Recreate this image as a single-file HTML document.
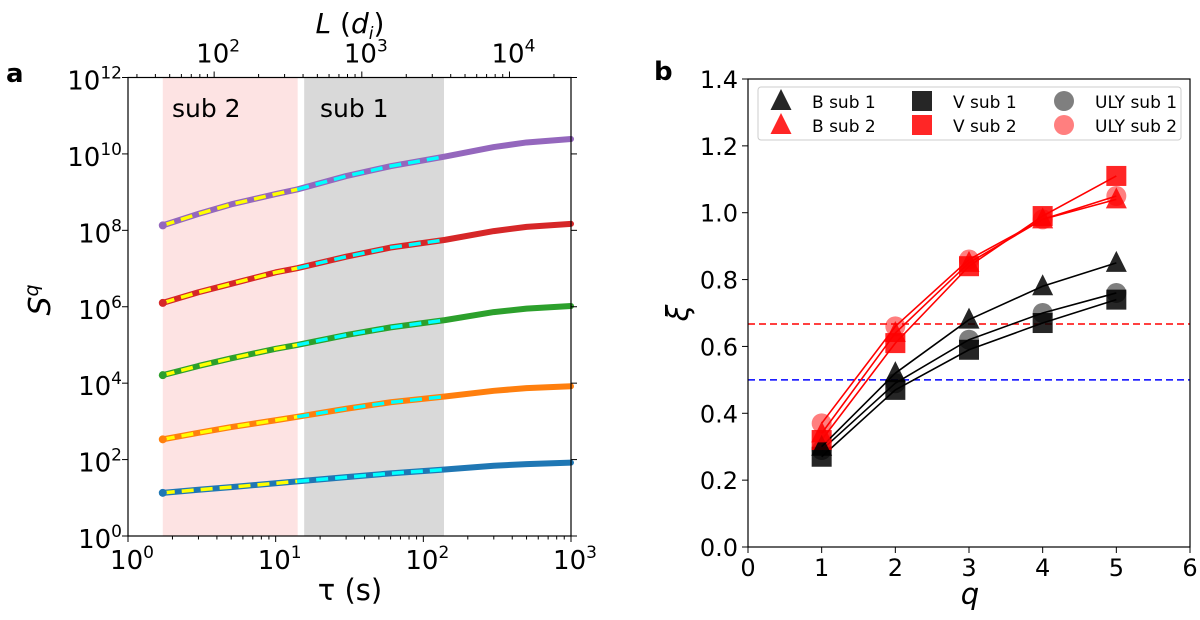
<!DOCTYPE html>
<html><head><meta charset="utf-8"><style>
body{margin:0;background:#fff;}
svg{display:block;font-family:"DejaVu Sans","Liberation Sans",sans-serif;}
</style></head><body>
<svg id="c" width="1200" height="620" viewBox="0 0 1200 620"></svg>
<script>
// Panel a data
const tauPts = [1.72, 3, 5, 10, 14, 30, 60, 140, 300, 500, 1000];
const sBlue   = [1.13, 1.21, 1.28, 1.38, 1.43, 1.54, 1.64, 1.74, 1.84, 1.88, 1.92];
const sOrange = [2.53, 2.70, 2.85, 3.03, 3.12, 3.33, 3.50, 3.65, 3.80, 3.87, 3.92];
const sGreen  = [4.21, 4.45, 4.65, 4.90, 5.00, 5.26, 5.46, 5.65, 5.86, 5.95, 6.02];
const sRed    = [6.10, 6.38, 6.60, 6.90, 7.01, 7.31, 7.55, 7.75, 7.98, 8.09, 8.17];
const sPurple = [8.13, 8.43, 8.68, 8.95, 9.07, 9.42, 9.68, 9.93, 10.18, 10.30, 10.39];
const seriesColorsA = ['#1f77b4','#ff7f0e','#2ca02c','#d62728','#9467bd'];
const sub2Range = [1.72, 14.1];
const sub1Range = [15.6, 138];
const xTicksA = [0,1,2,3];
const yTicksA = [0,2,4,6,8,10,12];
const topTicks = [2,3,4];
const Lfactor = 26.1;
// Panel b data
const qVals = [1,2,3,4,5];
const bSub1 = [0.30,0.52,0.68,0.78,0.85];
const bSub2 = [0.34,0.64,0.85,0.98,1.04];
const vSub1 = [0.27,0.47,0.59,0.67,0.74];
const vSub2 = [0.32,0.61,0.84,0.99,1.11];
const ulySub1 = [0.29,0.49,0.62,0.70,0.76];
const ulySub2 = [0.37,0.66,0.86,0.98,1.05];
const hRed = 0.667, hBlue = 0.5;
const xTicksB = [0,1,2,3,4,5,6];
const yTicksB = [0,0.2,0.4,0.6,0.8,1.0,1.2,1.4];

const NS='http://www.w3.org/2000/svg';
const svg=document.getElementById('c');
function mk(tag,attrs,parent){const e=document.createElementNS(NS,tag);for(const k in attrs)e.setAttribute(k,attrs[k]);(parent||svg).appendChild(e);return e;}
function txt(s,attrs,parent){const e=mk('text',attrs,parent);e.innerHTML=s;return e;}

// ---- Panel A ----
const AL=128,AR=571,AT=77.5,AB=536;
const ax=t=>AL+(Math.log10(t))*(AR-AL)/3;
const ay=l=>AB-l*(AB-AT)/12;
const gA=mk('g',{});


let r=mk('rect',{x:ax(sub2Range[0]),y:AT,width:ax(sub2Range[1])-ax(sub2Range[0]),height:AB-AT,fill:'#fde3e3'},gA);

r=mk('rect',{x:ax(sub1Range[0]),y:AT,width:ax(sub1Range[1])-ax(sub1Range[0]),height:AB-AT,fill:'#d9d9d9'},gA);

let t=txt('sub 2',{x:172,y:117,'font-size':25},gA);
t=txt('sub 1',{x:320,y:117,'font-size':25},gA);
const seriesA=[sBlue,sOrange,sGreen,sRed,sPurple];
seriesA.forEach((s,i)=>{
  const g=mk('g',{},gA);
  
  
  const pts=tauPts.map((tt,j)=>ax(tt)+','+ay(s[j])).join(' ');
  mk('polyline',{points:pts,fill:'none',stroke:seriesColorsA[i],'stroke-width':6,'stroke-linecap':'round','stroke-linejoin':'round'},g);
  const fit2=[],fit1=[];
  tauPts.forEach((tt,j)=>{if(tt<=14.1)fit2.push(ax(tt)+','+ay(s[j]));if(tt>=14&&tt<=140)fit1.push(ax(tt)+','+ay(s[j]));});
  mk('polyline',{points:fit2.join(' '),fill:'none',stroke:'#ffff00','stroke-width':3.5,'stroke-dasharray':'12,7'},g);
  mk('polyline',{points:fit1.join(' '),fill:'none',stroke:'#00ffff','stroke-width':3.5,'stroke-dasharray':'12,7'},g);
  mk('circle',{cx:ax(tauPts[0]),cy:ay(s[0]),r:4,fill:seriesColorsA[i]},g);
});
mk('rect',{x:AL,y:AT,width:AR-AL,height:AB-AT,fill:'none',stroke:'#000','stroke-width':1.2},gA);
xTicksA.forEach(d=>{
  for(let m=1;m<10&&d+Math.log10(m)<=3;m++){const x=ax(m*Math.pow(10,d));const len=m==1?6:3.5;mk('line',{x1:x,y1:AB,x2:x,y2:AB+len,stroke:'#000'},gA);}
  const tl=txt('10<tspan dy="-11" font-size="17">'+d+'</tspan>',{x:ax(Math.pow(10,d))+4,y:AB+33,'font-size':26,'text-anchor':'middle'},gA);
  
});
yTicksA.forEach(d=>{
  const y=ay(d);
  mk('line',{x1:AL-6,y1:y,x2:AL,y2:y,stroke:'#000'},gA);
  mk('line',{x1:AR,y1:y,x2:AR+6,y2:y,stroke:'#000'},gA);
  const tl=txt('10<tspan dy="-11" font-size="17">'+d+'</tspan>',{x:AL-6,y:y+12,'font-size':26,'text-anchor':'end'},gA);
  
});
for(let d=1;d<=5;d++)for(let m=1;m<10;m++){const tau=m*Math.pow(10,d)/Lfactor;if(tau<1||tau>1000)continue;const x=ax(tau);mk('line',{x1:x,y1:AT,x2:x,y2:AT-(m==1?6:3.5),stroke:'#000'},gA);}
topTicks.forEach(d=>{
  const tl=txt('10<tspan dy="-11" font-size="17">'+d+'</tspan>',{x:ax(Math.pow(10,d)/Lfactor)+4,y:AT-15,'font-size':26,'text-anchor':'middle'},gA);
  
});
t=txt('<tspan font-style="italic">L</tspan> (<tspan font-style="italic">d</tspan><tspan font-style="italic" font-size="17" dy="6">i</tspan><tspan dy="-6">)</tspan>',{x:350,y:33,'font-size':28,'text-anchor':'middle'},gA);

t=txt('τ (s)',{x:350,y:600,'font-size':29,'text-anchor':'middle'},gA);

t=txt('<tspan font-style="italic">S</tspan><tspan font-style="italic" font-size="19" dy="-12">q</tspan>',{x:0,y:0,'font-size':30,'text-anchor':'middle',transform:'translate(50,300) rotate(-90)'},gA);

t=txt('a',{x:6,y:82,'font-size':26,'font-weight':'bold'},gA);


// ---- Panel B ----
const BL=748,BR=1190,BT=79,BB=547;
const bx=q=>BL+q*(BR-BL)/6;
const by=v=>BB-v*(BB-BT)/1.4;
const gB=mk('g',{});


let hl=mk('line',{x1:BL,x2:BR,y1:by(hRed),y2:by(hRed),stroke:'#ff0000','stroke-width':1.5,'stroke-dasharray':'7,4'},gB);

hl=mk('line',{x1:BL,x2:BR,y1:by(hBlue),y2:by(hBlue),stroke:'#0000ff','stroke-width':1.5,'stroke-dasharray':'7,4'},gB);

function marker(shape,x,y,fill,op,g){
  if(shape==='tri')return mk('polygon',{points:`${x},${y-12} ${x-10.5},${y+9} ${x+10.5},${y+9}`,fill:fill,'fill-opacity':op},g);
  if(shape==='sq')return mk('rect',{x:x-10,y:y-10,width:20,height:20,fill:fill,'fill-opacity':op},g);
  return mk('circle',{cx:x,cy:y,r:10,fill:fill,'fill-opacity':op},g);
}
const seriesB=[
 {n:'uly-sub1',d:ulySub1,s:'circ',c:'#000',o:0.5,l:'#000'},
 {n:'uly-sub2',d:ulySub2,s:'circ',c:'#ff0000',o:0.5,l:'#ff0000'},
 {n:'v-sub1',d:vSub1,s:'sq',c:'#000',o:0.85,l:'#000'},
 {n:'v-sub2',d:vSub2,s:'sq',c:'#ff0000',o:0.85,l:'#ff0000'},
 {n:'b-sub1',d:bSub1,s:'tri',c:'#000',o:0.85,l:'#000'},
 {n:'b-sub2',d:bSub2,s:'tri',c:'#ff0000',o:0.85,l:'#ff0000'}];
seriesB.forEach(S=>{
  const g=mk('g',{},gB);
  
  
  S.d.forEach((v,i)=>{const m=marker(S.s,bx(qVals[i]),by(v),S.c,S.o,g);});
  mk('polyline',{points:S.d.map((v,i)=>bx(qVals[i])+','+by(v)).join(' '),fill:'none',stroke:S.l,'stroke-width':1.6},g);
});
mk('rect',{x:BL,y:BT,width:BR-BL,height:BB-BT,fill:'none',stroke:'#000','stroke-width':1.2},gB);
xTicksB.forEach(q=>{
  mk('line',{x1:bx(q),y1:BB,x2:bx(q),y2:BB+6,stroke:'#000'},gB);
  const tl=txt(q,{x:bx(q),y:BB+29,'font-size':24,'text-anchor':'middle'},gB);
  
});
yTicksB.forEach(v=>{
  mk('line',{x1:BL-6,y1:by(v),x2:BL,y2:by(v),stroke:'#000'},gB);
  const tl=txt(v.toFixed(1),{x:BL-10,y:by(v)+9,'font-size':24,'text-anchor':'end'},gB);
  
});
t=txt('q',{x:970,y:604,'font-size':29,'font-style':'italic','text-anchor':'middle'},gB);

t=txt('ξ',{x:0,y:0,'font-size':30,'font-style':'italic','text-anchor':'middle',transform:'translate(688,313) rotate(-90)'},gB);

t=txt('b',{x:654,y:80,'font-size':26,'font-weight':'bold'},gB);

const lg=mk('g',{},gB);


mk('rect',{x:758,y:87,width:423,height:53,rx:3,fill:'#fff','fill-opacity':0.8,stroke:'#ccc'},lg);
const legItems=[['tri','#000',0.85,'B sub 1',781,101],['tri','#ff0000',0.85,'B sub 2',781,125],
 ['sq','#000',0.85,'V sub 1',922,101],['sq','#ff0000',0.85,'V sub 2',922,125],
 ['circ','#000',0.5,'ULY sub 1',1064,101],['circ','#ff0000',0.5,'ULY sub 2',1064,125]];
legItems.forEach(L=>{
  const g=mk('g',{},lg);
  
  
  marker(L[0],L[4],L[5],L[1],L[2],g);
  txt(L[3],{x:L[4]+31,y:L[5]+7,'font-size':17},g);
});
</script>
</body></html>
